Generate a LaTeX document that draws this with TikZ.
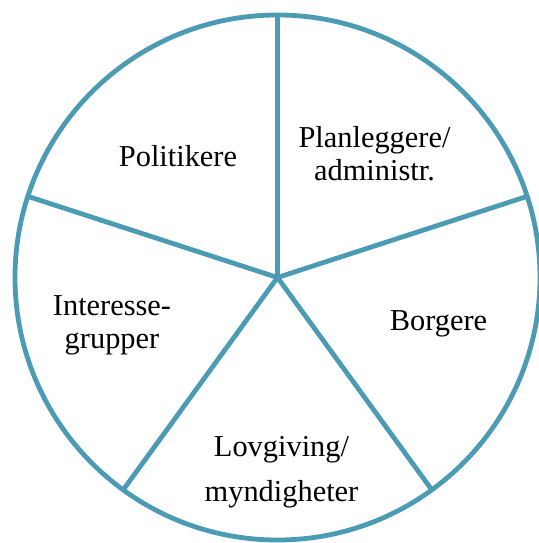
\documentclass[tikz,border=0pt]{standalone}
\usepackage{fontspec}
\setmainfont{Liberation Serif}
\definecolor{rim}{RGB}{75,155,180}
\begin{document}
\begin{tikzpicture}[x=1bp,y=1bp,
  wheel/.style={draw=rim,line width=4.8bp},
  lbl/.style={font=\fontsize{30.5}{33}\selectfont,inner sep=0pt,align=center,anchor=base}]
  \useasboundingbox (-277.5,-265.5) rectangle (261.5,277.5);
  \coordinate (c) at (0,0);
  \draw[wheel] (c) circle (262.5);
  % spokes
  \coordinate (top) at (90:262.5);
  \coordinate (right) at (18:262.5);
  \coordinate (lowright) at (-54:262.5);
  \coordinate (lowleft) at (-126:262.5);
  \coordinate (left) at (162:262.5);
  \draw[wheel] (c)--(top);
  \draw[wheel] (c)--(right);
  \draw[wheel] (c)--(lowright);
  \draw[wheel] (c)--(lowleft);
  \draw[wheel] (c)--(left);
  % labels (base = last line)
  \node[lbl] (pol) at (-99.5,111) {Politikere};
  \node[lbl] (plan) at (97,97) {Planleggere/\\administr.};
  \node[lbl] (borg) at (161,-53.5) {Borgere};
  \node[lbl] (lov) at (4,-224) {Lovgiving/\\[12bp]myndigheter};
  \node[lbl] (int) at (-165.5,-71) {Interesse-\\grupper};
\end{tikzpicture}
\end{document}
